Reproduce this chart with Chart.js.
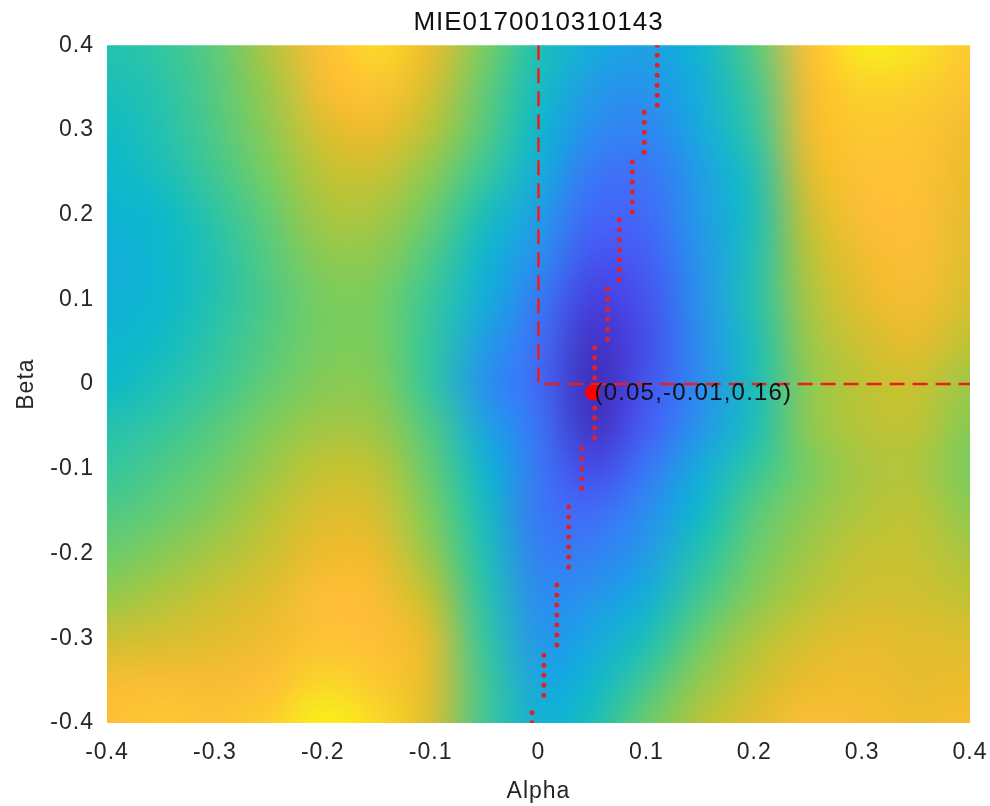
<!DOCTYPE html>
<html>
<head>
<meta charset="utf-8">
<script src="https://cdn.jsdelivr.net/npm/chart.js@4/dist/chart.umd.min.js"></script>
<style>
  html, body { margin: 0; padding: 0; background: #fff; }
  #wrap { width: 990px; height: 806px; }
</style>
</head>
<body>
<div id="wrap"><canvas id="surf" width="990" height="806"></canvas></div>
<script>
// grid axes (alpha across, beta down from top)
const alphaValues = [-0.4, -0.35, -0.3, -0.25, -0.2, -0.15, -0.1, -0.05, 0, 0.05, 0.1, 0.15, 0.2, 0.25, 0.3, 0.35, 0.4];
const betaValues = [0.4, 0.35, 0.3, 0.25, 0.2, 0.15, 0.1, 0.05, 0, -0.05, -0.1, -0.15, -0.2, -0.25, -0.3, -0.35, -0.4];

// colour level of the surface (0 = darkest blue, 1 = yellow), one row per beta
const costGrid = [
  [0.47, 0.50, 0.56, 0.68, 0.85, 0.93, 0.78, 0.60, 0.46, 0.36, 0.32, 0.40, 0.55, 0.85, 0.97, 0.95, 0.88],
  [0.45, 0.48, 0.55, 0.65, 0.82, 0.87, 0.74, 0.57, 0.44, 0.30, 0.27, 0.37, 0.52, 0.82, 0.91, 0.90, 0.86],
  [0.43, 0.47, 0.54, 0.63, 0.75, 0.79, 0.69, 0.55, 0.41, 0.25, 0.23, 0.35, 0.50, 0.80, 0.88, 0.87, 0.80],
  [0.41, 0.45, 0.52, 0.60, 0.70, 0.72, 0.63, 0.51, 0.37, 0.20, 0.19, 0.31, 0.46, 0.76, 0.86, 0.86, 0.78],
  [0.39, 0.42, 0.49, 0.57, 0.67, 0.67, 0.58, 0.45, 0.31, 0.16, 0.17, 0.30, 0.45, 0.72, 0.84, 0.85, 0.77],
  [0.37, 0.41, 0.47, 0.55, 0.63, 0.63, 0.54, 0.40, 0.26, 0.12, 0.14, 0.28, 0.46, 0.69, 0.80, 0.84, 0.76],
  [0.38, 0.41, 0.47, 0.54, 0.60, 0.60, 0.51, 0.37, 0.21, 0.08, 0.12, 0.27, 0.47, 0.67, 0.77, 0.82, 0.74],
  [0.40, 0.43, 0.49, 0.55, 0.60, 0.60, 0.50, 0.31, 0.18, 0.04, 0.11, 0.26, 0.45, 0.65, 0.73, 0.77, 0.70],
  [0.42, 0.46, 0.51, 0.57, 0.62, 0.62, 0.50, 0.27, 0.17, 0.02, 0.12, 0.25, 0.45, 0.63, 0.70, 0.72, 0.65],
  [0.47, 0.50, 0.55, 0.61, 0.66, 0.65, 0.54, 0.33, 0.19, 0.04, 0.14, 0.28, 0.45, 0.63, 0.69, 0.70, 0.62],
  [0.50, 0.54, 0.58, 0.65, 0.71, 0.70, 0.57, 0.40, 0.20, 0.10, 0.20, 0.36, 0.50, 0.60, 0.67, 0.68, 0.60],
  [0.54, 0.57, 0.62, 0.69, 0.75, 0.74, 0.60, 0.44, 0.20, 0.17, 0.25, 0.42, 0.55, 0.63, 0.68, 0.70, 0.63],
  [0.58, 0.62, 0.67, 0.72, 0.79, 0.78, 0.64, 0.46, 0.22, 0.22, 0.30, 0.47, 0.58, 0.66, 0.71, 0.71, 0.67],
  [0.64, 0.68, 0.72, 0.76, 0.85, 0.83, 0.70, 0.48, 0.25, 0.28, 0.37, 0.52, 0.62, 0.69, 0.73, 0.73, 0.70],
  [0.72, 0.74, 0.76, 0.80, 0.86, 0.85, 0.76, 0.50, 0.28, 0.34, 0.45, 0.58, 0.68, 0.74, 0.77, 0.76, 0.75],
  [0.82, 0.83, 0.82, 0.85, 0.92, 0.88, 0.76, 0.52, 0.33, 0.40, 0.52, 0.64, 0.72, 0.78, 0.80, 0.77, 0.78],
  [0.85, 0.88, 0.86, 0.90, 0.98, 0.93, 0.75, 0.52, 0.38, 0.45, 0.58, 0.69, 0.76, 0.84, 0.82, 0.80, 0.82]
];

// dotted search path: one vertical run per alpha
const pathAlpha = [0.110, 0.098, 0.087, 0.075, 0.064, 0.052, 0.040, 0.028, 0.017, 0.005, -0.006];
const pathBetaTop = [0.400, 0.321, 0.262, 0.194, 0.112, 0.043, -0.076, -0.145, -0.237, -0.320, -0.388];
const pathBetaBottom = [0.329, 0.272, 0.202, 0.122, 0.051, -0.064, -0.135, -0.227, -0.309, -0.378, -0.400];

// dashed cross lines
const crossAlpha = [0, 0, 0.4];
const crossBeta = [0.4, 0, 0];

// minimum marker
const minAlpha = 0.05;
const minBeta = -0.01;
const minCost = 0.16;

const tickValues = [-0.4, -0.3, -0.2, -0.1, 0, 0.1, 0.2, 0.3, 0.4];
const tickLabels = ['-0.4', '-0.3', '-0.2', '-0.1', '0', '0.1', '0.2', '0.3', '0.4'];

// parula-like colour stops
const stops = [
  [0.00, 62, 38, 168], [0.08, 70, 62, 222], [0.15, 70, 98, 250], [0.25, 45, 140, 240],
  [0.35, 22, 170, 222], [0.42, 12, 185, 202], [0.50, 50, 198, 160], [0.60, 120, 205, 95],
  [0.70, 190, 195, 52], [0.78, 236, 188, 45], [0.85, 254, 190, 55], [0.92, 250, 215, 40],
  [1.00, 249, 250, 22]
];

function parula(v) {
  v = Math.max(0, Math.min(1, v));
  for (let i = 1; i < stops.length; i++) {
    if (v <= stops[i][0]) {
      const a = stops[i - 1], b = stops[i];
      const t = (v - a[0]) / (b[0] - a[0]);
      return [0, 1, 2].map(k => Math.round(a[k + 1] + (b[k + 1] - a[k + 1]) * t));
    }
  }
  return stops[stops.length - 1].slice(1);
}

// heat surface, placed with the chart's own scales
const surfacePlugin = {
  id: 'surface',
  beforeDraw(chart) {
    // matlab text is set a little wider than Liberation Sans
    chart.ctx.letterSpacing = '1px';
  },
  beforeDatasetsDraw(chart) {
    const { ctx, chartArea, scales } = chart;
    const nx = alphaValues.length, ny = betaValues.length;
    const off = document.createElement('canvas');
    off.width = nx; off.height = ny;
    const octx = off.getContext('2d');
    const img = octx.createImageData(nx, ny);
    for (let j = 0; j < ny; j++) {
      for (let i = 0; i < nx; i++) {
        const c = parula(costGrid[j][i]);
        const p = (j * nx + i) * 4;
        img.data[p] = c[0]; img.data[p + 1] = c[1]; img.data[p + 2] = c[2]; img.data[p + 3] = 255;
      }
    }
    octx.putImageData(img, 0, 0);
    const hx = (alphaValues[1] - alphaValues[0]) / 2;
    const hy = (betaValues[0] - betaValues[1]) / 2;
    const x0 = scales.x.getPixelForValue(alphaValues[0] - hx);
    const x1 = scales.x.getPixelForValue(alphaValues[nx - 1] + hx);
    const y0 = scales.y.getPixelForValue(betaValues[0] + hy);
    const y1 = scales.y.getPixelForValue(betaValues[ny - 1] - hy);
    ctx.save();
    ctx.beginPath();
    ctx.rect(chartArea.left, chartArea.top, chartArea.right - chartArea.left, chartArea.bottom - chartArea.top);
    ctx.clip();
    ctx.imageSmoothingEnabled = true;
    ctx.imageSmoothingQuality = 'high';
    ctx.drawImage(off, x0, y0, x1 - x0, y1 - y0);
    ctx.restore();
  }
};

// "(a,b,c)" text beside the minimum
const minLabelPlugin = {
  id: 'minLabel',
  afterDatasetsDraw(chart) {
    const { ctx, scales } = chart;
    const px = scales.x.getPixelForValue(minAlpha);
    const py = scales.y.getPixelForValue(minBeta);
    ctx.save();
    ctx.font = '24px "Liberation Sans", Arial, sans-serif';
    ctx.letterSpacing = '1.2px';
    ctx.fillStyle = '#101018';
    ctx.textAlign = 'left';
    ctx.textBaseline = 'middle';
    ctx.fillText('(' + minAlpha + ',' + minBeta + ',' + minCost + ')', px + 2, py + 1);
    ctx.restore();
  }
};

const pathData = [];
pathAlpha.forEach((a, i) => {
  pathData.push({ x: a, y: pathBetaTop[i] });
  pathData.push({ x: a, y: pathBetaBottom[i] });
  pathData.push({ x: a, y: null });
});

const crossData = crossAlpha.map((a, i) => ({ x: a, y: crossBeta[i] }));

const tickFont = { family: '"Liberation Sans", Arial, sans-serif', size: 23 };
const labelFont = { family: '"Liberation Sans", Arial, sans-serif', size: 23 };

function setTicks(scale) {
  scale.ticks = tickValues.map(v => ({ value: v }));
}

new Chart(document.getElementById('surf'), {
  type: 'scatter',
  data: {
    datasets: [
      {
        label: 'minimum',
        data: [{ x: minAlpha, y: minBeta }],
        pointRadius: 7.5,
        pointBackgroundColor: 'rgb(255,0,0)',
        pointBorderWidth: 0,
        showLine: false
      },
      {
        label: 'path',
        data: pathData,
        showLine: true,
        spanGaps: false,
        pointRadius: 0,
        borderColor: 'rgb(222,34,44)',
        borderWidth: 5,
        borderDash: [0, 10],
        borderCapStyle: 'round'
      },
      {
        label: 'cross',
        data: crossData,
        showLine: true,
        pointRadius: 0,
        borderColor: 'rgb(235,30,30)',
        borderWidth: 2.5,
        borderDash: [15, 8]
      }
    ]
  },
  options: {
    responsive: false,
    animation: false,
    events: [],
    layout: { padding: { left: 0, right: 20, top: 0, bottom: 0 } },
    plugins: {
      legend: { display: false },
      tooltip: { enabled: false },
      title: {
        display: true,
        fullSize: false,
        text: 'MIE0170010310143',
        color: '#111',
        font: { family: '"Liberation Sans", Arial, sans-serif', size: 26, weight: 'normal', lineHeight: 1.2 },
        padding: { top: 7, bottom: 7 }
      }
    },
    scales: {
      x: {
        type: 'linear',
        min: -0.4,
        max: 0.4,
        afterBuildTicks: setTicks,
        afterFit(scale) {
          scale.height = 83;
          scale.paddingLeft = 0;
          scale.paddingRight = 0;
        },
        grid: { display: false, drawTicks: false },
        border: { display: false },
        ticks: {
          font: tickFont,
          color: '#262626',
          padding: 16,
          maxRotation: 0,
          callback: (v) => tickLabels[tickValues.indexOf(v)]
        },
        title: {
          display: true,
          text: 'Alpha',
          font: labelFont,
          color: '#262626',
          padding: { top: 0, bottom: 1 }
        }
      },
      y: {
        type: 'linear',
        min: -0.4,
        max: 0.4,
        afterBuildTicks: setTicks,
        afterFit(scale) {
          scale.width = 107;
          scale.paddingTop = 0;
          scale.paddingBottom = 0;
        },
        grid: { display: false, drawTicks: false },
        border: { display: false },
        ticks: {
          font: tickFont,
          color: '#262626',
          padding: 13,
          callback: (v) => tickLabels[tickValues.indexOf(v)]
        },
        title: {
          display: true,
          text: 'Beta',
          font: labelFont,
          color: '#262626',
          padding: { top: 13, bottom: 0 }
        }
      }
    }
  },
  plugins: [surfacePlugin, minLabelPlugin]
});
</script>
</body>
</html>
